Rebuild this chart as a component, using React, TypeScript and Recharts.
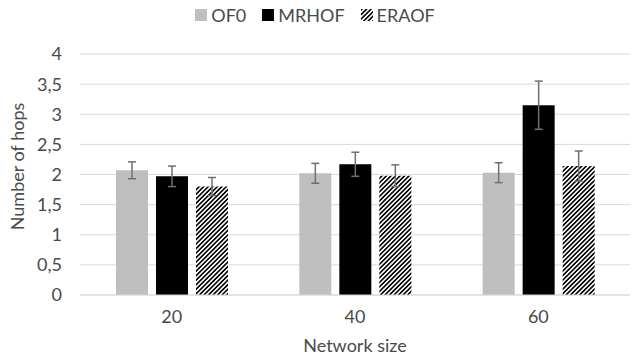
import { BarChart, Bar, XAxis, YAxis, CartesianGrid, Legend, ErrorBar } from "recharts";

const categories = ["20", "40", "60"];
const of0 = [2.07, 2.02, 2.03];
const of0Err = [0.14, 0.165, 0.165];
const mrhof = [1.97, 2.17, 3.15];
const mrhofErr = [0.17, 0.2, 0.4];
const eraof = [1.8, 1.98, 2.14];
const eraofErr = [0.15, 0.18, 0.25];
const yTicks = [0, 0.5, 1, 1.5, 2, 2.5, 3, 3.5, 4];
const seriesOrder = ["OF0", "MRHOF", "ERAOF"];

const data = categories.map((c, i) => ({
  size: c,
  OF0: of0[i],
  of0Err: of0Err[i],
  MRHOF: mrhof[i],
  mrhofErr: mrhofErr[i],
  ERAOF: eraof[i],
  eraofErr: eraofErr[i],
}));

const FONT = "Lato, 'Open Sans', sans-serif";
const TEXT = "#4a4a4a";
const ERR = "#707070";
const FS = 18;

function LegendBox({ payload }: any) {
  const items = [...(payload || [])].sort(
    (a: any, b: any) => seriesOrder.indexOf(a.value) - seriesOrder.indexOf(b.value)
  );
  return (
    <div style={{ display: "flex", justifyContent: "center", height: 20, alignItems: "center", fontFamily: FONT, fontSize: FS, color: TEXT }}>
      {items.map((p: any) => (
        <span key={p.value} style={{ display: "inline-flex", alignItems: "center", margin: "0 8px" }}>
          <svg width={12} height={12} style={{ marginRight: 4 }}>
            <rect width={12} height={12} fill={p.color} />
          </svg>
          {p.value}
        </span>
      ))}
    </div>
  );
}

export default function App() {
  return (
    <div style={{ position: "absolute", left: 0, top: 0, width: 642, height: 360, background: "#fff" }}>
      <BarChart
        width={642}
        height={360}
        data={data}
        margin={{ top: 34, right: 12, left: 0, bottom: 0 }}
        barCategoryGap={36}
        barGap={8}
      >
        <defs>
          <pattern id="hatch" patternUnits="userSpaceOnUse" width={3.2} height={3.2} patternTransform="rotate(45)">
            <rect width={3.2} height={3.2} fill="#fff" />
            <rect width={1.6} height={3.2} fill="#000" />
          </pattern>
        </defs>
        <CartesianGrid vertical={false} stroke="#d9d9d9" strokeWidth={1} />
        <XAxis
          dataKey="size"
          height={65}
          tickLine={false}
          axisLine={{ stroke: "#d9d9d9" }}
          tick={{ fill: TEXT, fontSize: FS, fontFamily: FONT }}
          tickMargin={9}
          label={{ value: "Network size", position: "insideBottom", offset: 8, fill: TEXT, fontSize: FS, fontFamily: FONT }}
        />
        <YAxis
          width={80}
          domain={[0, 4]}
          ticks={yTicks}
          interval={0}
          axisLine={false}
          tickLine={false}
          tickMargin={12}
          tickFormatter={(v) => String(v).replace(".", ",")}
          tick={{ fill: TEXT, fontSize: FS, fontFamily: FONT }}
          label={{ value: "Number of hops", angle: -90, position: "insideLeft", offset: 18, dy: -8, style: { textAnchor: "middle" }, fill: TEXT, fontSize: FS, fontFamily: FONT }}
        />
        <Legend verticalAlign="top" content={<LegendBox />} wrapperStyle={{ top: 5 }} />
        <Bar dataKey="OF0" fill="#bfbfbf" isAnimationActive={false}>
          <ErrorBar dataKey="of0Err" width={4} stroke={ERR} strokeWidth={1.5} isAnimationActive={false} />
        </Bar>
        <Bar dataKey="MRHOF" fill="#000000" isAnimationActive={false}>
          <ErrorBar dataKey="mrhofErr" width={4} stroke={ERR} strokeWidth={1.5} isAnimationActive={false} />
        </Bar>
        <Bar dataKey="ERAOF" fill="url(#hatch)" isAnimationActive={false}>
          <ErrorBar dataKey="eraofErr" width={4} stroke={ERR} strokeWidth={1.5} isAnimationActive={false} />
        </Bar>
      </BarChart>
    </div>
  );
}
